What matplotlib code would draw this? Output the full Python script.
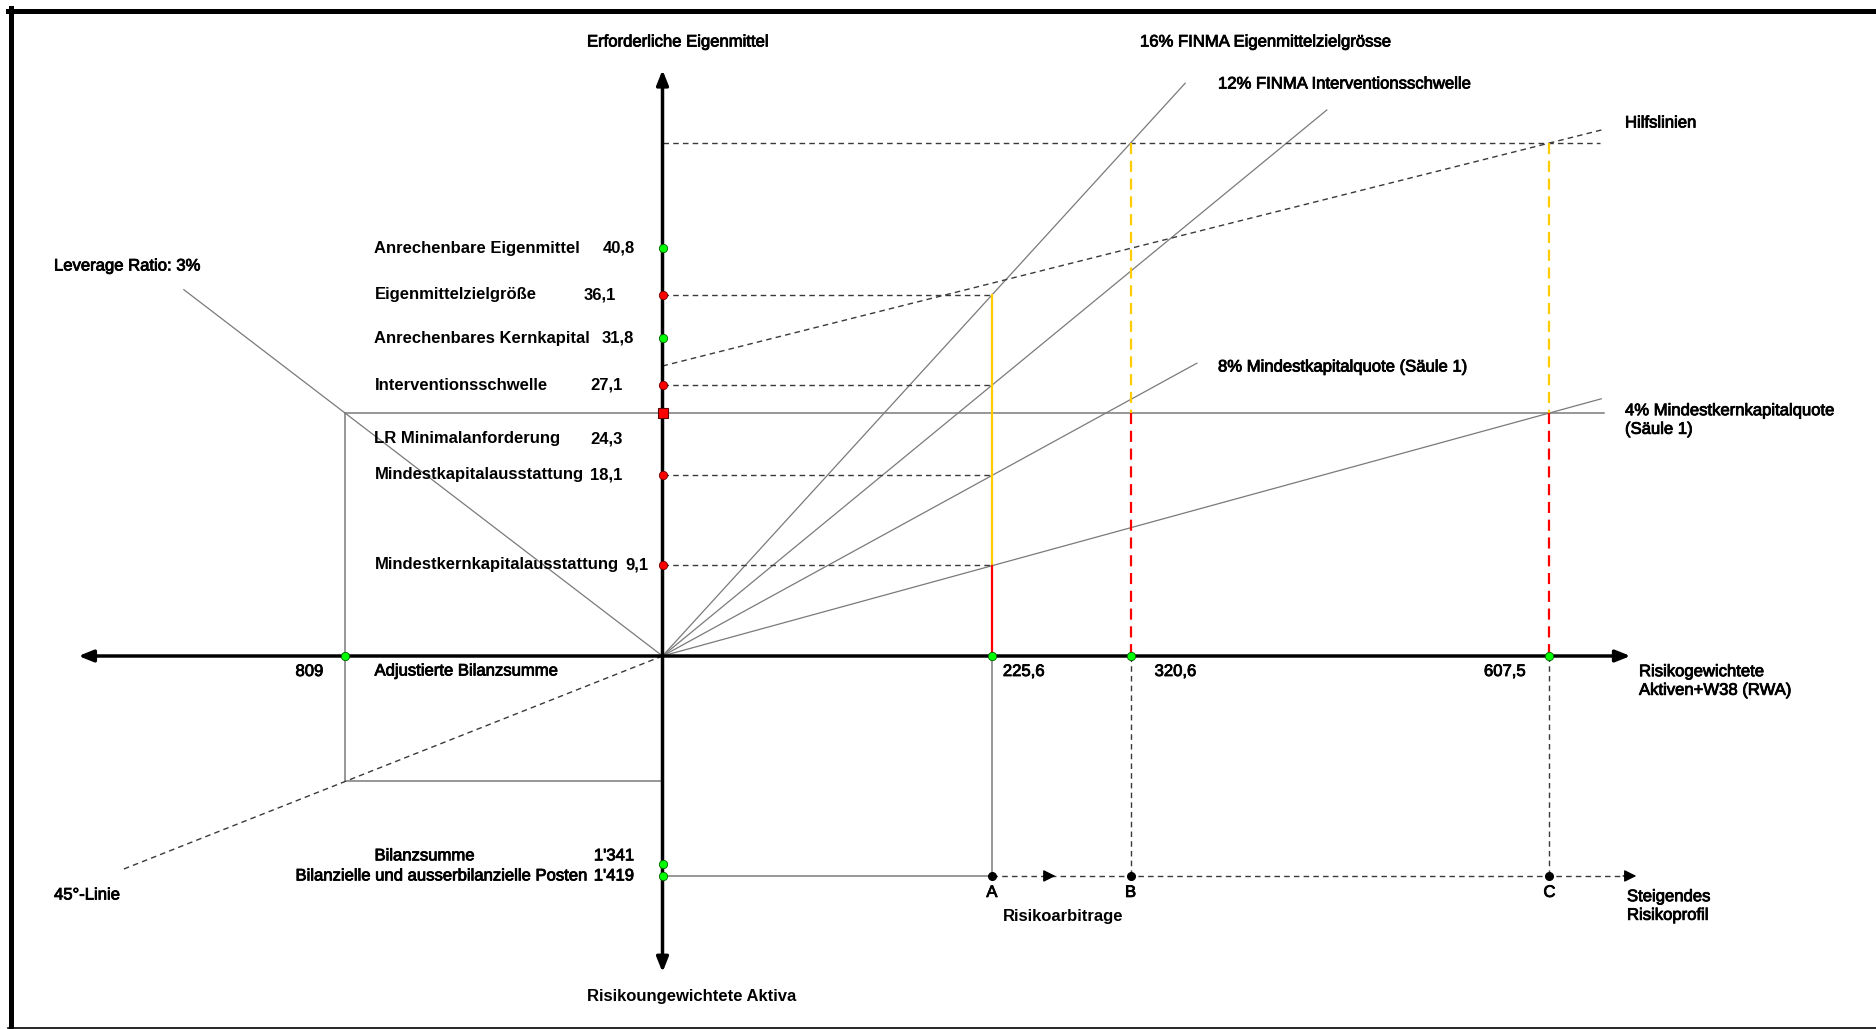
import matplotlib.pyplot as plt
import matplotlib.patheffects as pe
from matplotlib.lines import Line2D

plt.rcParams['font.family'] = ['Liberation Sans', 'DejaVu Sans']

# senkrechte Achse oben: Eigenmittel (Mio.)
eigenmittel_namen = ['Anrechenbare Eigenmittel', 'Eigenmittelzielgröße', 'Anrechenbares Kernkapital',
                     'Interventionsschwelle', 'LR Minimalanforderung', 'Mindestkapitalausstattung',
                     'Mindestkernkapitalausstattung']
eigenmittel_werte = [40.8, 36.1, 31.8, 27.1, 24.3, 18.1, 9.1]
eigenmittel_labels = ['40,8', '36,1', '31,8', '27,1', '24,3', '18,1', '9,1']
eigenmittel_art = ['gruen', 'rot', 'gruen', 'rot', 'quadrat', 'rot', 'rot']

# Strahlen aus dem Ursprung (Quoten auf RWA)
quoten = [0.16, 0.12, 0.08, 0.04]
quoten_namen = ['16% FINMA Eigenmittelzielgrösse', '12% FINMA Interventionsschwelle',
                '8% Mindestkapitalquote (Säule 1)', '4% Mindestkernkapitalquote\n(Säule 1)']

# waagrechte Achse rechts: RWA
rwa_werte = [225.6, 320.6, 607.5]
rwa_labels = ['225,6', '320,6', '607,5']
rwa_namen = ['A', 'B', 'C']

# waagrechte Achse links: Leverage Ratio
leverage_ratio = 0.03
adj_bilanzsumme = 809
adj_label = '809'
lr_minimum = 24.3

# senkrechte Achse unten: risikoungewichtete Aktiva
bilanz_namen = ['Bilanzsumme', 'Bilanzielle und ausserbilanzielle Posten']
bilanz_werte = [1341, 1419]
bilanz_labels = ["1'341", "1'419"]

# Hilfslinie schneidet die Eigenmittelachse hier
hilfslinie_start = 29.0

# ---- Layout (Pixel des Bildes) ----
W, H = 1876, 1029
X0, Y0 = 662.5, 656.0       # Ursprung
SX, SY = 1.46, 10.0         # px je RWA-Einheit / je Eigenmittel-Einheit
LINKS = 0.392 / SX          # Adj. Bilanzsumme -> RWA-Einheiten
UNTEN = 0.155 / SY          # ungewichtete Aktiva -> Eigenmittel-Einheiten

GRAU = '#7a7a7a'
DUNKEL = '#3a3a3a'
GELB = '#ffcc00'
ROT = '#ff0000'
FS = 12
DICK = [pe.withStroke(linewidth=0.6, foreground='black')]


def dx(xp):
    return (xp - X0) / SX


def dy(yp):
    return (Y0 - yp) / SY


def schreibe(x, y, s, fw='normal', **kw):
    eff = DICK if fw == 'normal' else None
    ax.text(x, y, s, fontsize=FS, fontweight=fw, va='center', path_effects=eff,
            linespacing=1.3, **kw)


fig = plt.figure(figsize=(W / 100, H / 100), dpi=100)
ax = fig.add_axes([0, 0, 1, 1])
ax.set_xlim(dx(0), dx(W))
ax.set_ylim(dy(H), dy(0))
ax.axis('off')

# Rahmen
fig.add_artist(Line2D([10.5 / W, 10.5 / W], [1 - 8 / H, 0], color='black', lw=3.6))
fig.add_artist(Line2D([8 / W, 1], [1 - 10.5 / H, 1 - 10.5 / H], color='black', lw=3.6))
fig.add_artist(Line2D([8 / W, 1], [0.7 / H, 0.7 / H], color='black', lw=1.2))

# Achsen mit Pfeilen
ende_oben, ende_rechts, ende_links, ende_unten = 58.6, 663, 1490, 2040
pfeil = dict(arrowstyle='-|>,head_length=0.55,head_width=0.22', lw=2.5, color='black',
             shrinkA=0, shrinkB=0, mutation_scale=16)
for tip in [(0, ende_oben), (ende_rechts, 0), (-ende_links * LINKS, 0), (0, -ende_unten * UNTEN)]:
    ax.annotate('', xy=tip, xytext=(0, 0), arrowprops=pfeil, zorder=4)

dash = (0, (4, 3))
a, b, c = rwa_werte
hilf_oben = quoten[0] * b
x_ende = 645

# Strahlen
strahl_ende = [358, 455, 366, 643]
for q, xe in zip(quoten, strahl_ende):
    ax.plot([0, xe], [0, q * xe], color=GRAU, lw=0.9, zorder=2)

# Hilfslinien
ax.plot([0, 642], [hilf_oben, hilf_oben], color=DUNKEL, lw=1, ls=dash, zorder=2)
steigung = (hilf_oben - hilfslinie_start) / c
ax.plot([0, x_ende], [hilfslinie_start, hilfslinie_start + steigung * x_ende],
        color=DUNKEL, lw=1, ls=dash, zorder=2)

# gestrichelte Linien zu A
for w, art in zip(eigenmittel_werte, eigenmittel_art):
    if art == 'rot':
        ax.plot([0, a], [w, w], color=DUNKEL, lw=1, ls=dash, zorder=2)

# LR-Linie und Rechteck links
xl = -adj_bilanzsumme * LINKS
yu = -adj_bilanzsumme * UNTEN
ax.plot([xl, x_ende], [lr_minimum, lr_minimum], color=GRAU, lw=1.1, zorder=2)
ax.plot([xl, xl, 0], [lr_minimum, yu, yu], color=GRAU, lw=1.1, zorder=2)
lev_ende = 1221
ax.plot([0, -lev_ende * LINKS], [0, leverage_ratio * lev_ende], color=GRAU, lw=0.9, zorder=2)
lin_ende = 1383
ax.plot([0, -lin_ende * LINKS], [0, -lin_ende * UNTEN], color=DUNKEL, lw=1, ls=dash, zorder=2)

# Senkrechte bei A, B, C
ax.plot([a, a], [quoten[0] * a, quoten[3] * a], color=GELB, lw=1.6, zorder=3)
ax.plot([a, a], [quoten[3] * a, 0], color=ROT, lw=1.6, zorder=3)
for x in [b, c]:
    ax.plot([x, x], [hilf_oben, lr_minimum], color=GELB, lw=1.6, ls=(0, (5, 3)), zorder=3)
    ax.plot([x, x], [lr_minimum, 0], color=ROT, lw=1.6, ls=(0, (5, 3)), zorder=3)

yb = -bilanz_werte[1] * UNTEN
ax.plot([a, a], [0, yb], color=GRAU, lw=1.1, zorder=2)
for x in [b, c]:
    ax.plot([x, x], [0, yb], color=DUNKEL, lw=1, ls=dash, zorder=2)

# Risikoarbitrage-Linie
ax.plot([0, a], [yb, yb], color=GRAU, lw=1.1, zorder=2)
ax.plot([a, 660], [yb, yb], color=DUNKEL, lw=1, ls=dash, zorder=2)
klein = dict(arrowstyle='-|>,head_length=0.6,head_width=0.3', lw=1, color='black',
             shrinkA=0, shrinkB=0, mutation_scale=12)
mitte = (a + b) / 2 - 4
ax.annotate('', xy=(mitte, yb), xytext=(mitte - 8, yb), arrowprops=klein, zorder=4)
ax.annotate('', xy=(667, yb), xytext=(658, yb), arrowprops=klein, zorder=4)

# Punkte
for w, art in zip(eigenmittel_werte, eigenmittel_art):
    if art == 'quadrat':
        ax.plot(0, w, marker='s', ms=7, color=ROT, mec='#600000', mew=0.8, zorder=6)
    elif art == 'rot':
        ax.plot(0, w, 'o', ms=6, color=ROT, mec='#700000', mew=0.6, zorder=6)
    else:
        ax.plot(0, w, 'o', ms=6, color='#00ff00', mec='#006000', mew=0.6, zorder=6)
for w in bilanz_werte:
    ax.plot(0, -w * UNTEN, 'o', ms=6, color='#00ff00', mec='#006000', mew=0.6, zorder=6)
ax.plot(xl, 0, 'o', ms=6, color='#00ff00', mec='#006000', mew=0.6, zorder=6)
for x in rwa_werte:
    ax.plot(x, 0, 'o', ms=6, color='#00ff00', mec='#006000', mew=0.6, zorder=6)
    ax.plot(x, yb, 'o', ms=5.5, color='black', zorder=6)

# Beschriftungen links der Achse
wert_rechts = [635, 616, 634, 623, 623, 622, 648]
for name, w, lab, art, xr in zip(eigenmittel_namen, eigenmittel_werte, eigenmittel_labels,
                                 eigenmittel_art, wert_rechts):
    y = w - 2.6 if art == 'quadrat' else w
    schreibe(dx(374.5), y, name, 'bold', ha='left')
    schreibe(dx(xr), y, lab, 'bold', ha='right')

# Bilanzsumme unten
y1 = -bilanz_werte[0] * UNTEN + 0.8
y2 = -bilanz_werte[1] * UNTEN
schreibe(dx(374.5), y1, bilanz_namen[0], ha='left')
schreibe(dx(634), y1, bilanz_labels[0], ha='right')
schreibe(dx(588), y2, bilanz_namen[1], ha='right')
schreibe(dx(634), y2, bilanz_labels[1], ha='right')

# RWA-Werte und Punkte A, B, C
versatz = [11, 24, -24]
for x, lab, name, v in zip(rwa_werte, rwa_labels, rwa_namen, versatz):
    schreibe(x + v / SX, -1.55, lab, ha='left' if v > 0 else 'right')
    schreibe(x, yb - 1.65, name, ha='center')
schreibe(xl - 22 / SX, -1.55, adj_label, ha='right')

# Beschriftungen der Strahlen
quoten_pos = [(1140, 42), (1218, 84), (1218, 367), (1625, 420)]
for name, (xp, yp) in zip(quoten_namen, quoten_pos):
    schreibe(dx(xp), dy(yp), name, ha='left')

# freie Texte
texte = [
    (587, 42, 'Erforderliche Eigenmittel', 'normal'),
    (587, 997, 'Risikoungewichtete Aktiva', 'bold'),
    (1625, 123, 'Hilfslinien', 'normal'),
    (54, 266, 'Leverage Ratio: 3%', 'normal'),
    (374.5, 671, 'Adjustierte Bilanzsumme', 'normal'),
    (1639, 681, 'Risikogewichtete\nAktiven+W38 (RWA)', 'normal'),
    (54, 895, '45°-Linie', 'normal'),
    (1003, 917, 'Risikoarbitrage', 'bold'),
    (1627, 906, 'Steigendes\nRisikoprofil', 'normal'),
]
for xp, yp, s, fw in texte:
    schreibe(dx(xp), dy(yp), s, fw, ha='left')

fig.savefig('out.png', dpi=100)
